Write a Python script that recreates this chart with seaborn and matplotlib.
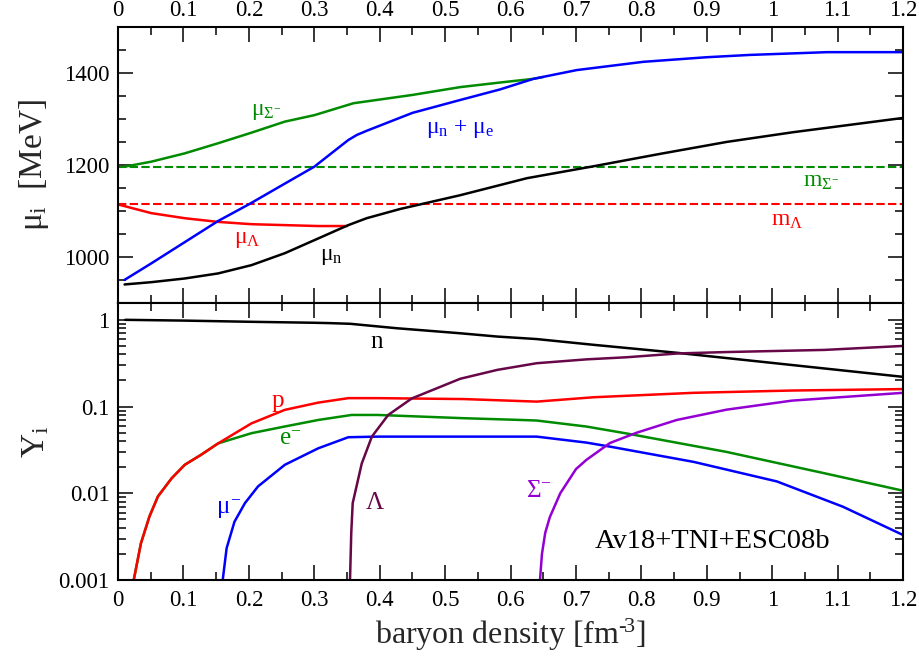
import matplotlib
matplotlib.use("Agg")
import matplotlib.pyplot as plt
import seaborn as sns
from matplotlib.ticker import MultipleLocator, LogLocator, FuncFormatter, NullFormatter

# ---------------- chemical potentials [MeV] ----------------
rho_mu_sigma = [0.010, 0.051, 0.102, 0.153, 0.204, 0.255, 0.300, 0.360, 0.450, 0.523, 0.584, 0.635, 0.650]
mu_sigma = [1197, 1208, 1226, 1248, 1271, 1295, 1309, 1335, 1353, 1370, 1380, 1388, 1392]

rho_mu_ne = [0.010, 0.051, 0.102, 0.153, 0.201, 0.251, 0.300, 0.326, 0.352, 0.365, 0.380, 0.450, 0.523,
             0.584, 0.635, 0.701, 0.803, 0.900, 0.966, 1.084, 1.200]
mu_ne = [951, 987, 1033, 1079, 1116, 1157, 1197, 1226, 1255, 1266, 1275, 1314, 1342,
         1365, 1388, 1407, 1425, 1435, 1440, 1446, 1446]

rho_mu_lambda = [0.000, 0.051, 0.102, 0.153, 0.204, 0.255, 0.306, 0.350]
mu_lambda = [1115, 1096, 1085, 1077, 1072, 1070, 1068, 1068]

rho_mu_n = [0.010, 0.051, 0.102, 0.153, 0.204, 0.255, 0.306, 0.352, 0.380, 0.431, 0.523,
            0.625, 0.727, 0.829, 0.931, 1.032, 1.200]
mu_n = [941, 946, 954, 965, 983, 1009, 1041, 1070, 1085, 1105, 1135,
        1172, 1198, 1225, 1251, 1272, 1303]

m_lambda = 1115.7
m_sigma = 1197.4
rho_range = [0.0, 1.2]

# ---------------- particle fractions ----------------
rho_n = [0.011, 0.100, 0.200, 0.300, 0.324, 0.355, 0.426, 0.523, 0.579, 0.640, 0.727,
         0.854, 0.981, 1.200]
Y_n = [1.0, 0.98, 0.95, 0.925, 0.916, 0.90, 0.80, 0.70, 0.642, 0.60, 0.515,
       0.417, 0.33, 0.22]

rho_p = [0.024, 0.035, 0.048, 0.061, 0.082, 0.102, 0.127, 0.153, 0.204, 0.255, 0.306,
         0.352, 0.397, 0.528, 0.640, 0.727, 0.880, 1.030, 1.200]
Y_p = [0.001, 0.00265, 0.0054, 0.0092, 0.0149, 0.0213, 0.0278, 0.0376, 0.064, 0.0916, 0.111,
       0.125, 0.125, 0.122, 0.114, 0.128, 0.144, 0.153, 0.159]

rho_e = [0.024, 0.035, 0.048, 0.061, 0.082, 0.102, 0.127, 0.153, 0.204, 0.255, 0.306,
         0.357, 0.397, 0.528, 0.609, 0.640, 0.716, 0.777, 0.930, 1.080, 1.200]
Y_e = [0.001, 0.00265, 0.0054, 0.0092, 0.0149, 0.0213, 0.0278, 0.0376, 0.0493, 0.0589, 0.070,
       0.080, 0.080, 0.0734, 0.0703, 0.069, 0.0588, 0.049, 0.030, 0.017, 0.0107]

rho_muon = [0.160, 0.166, 0.178, 0.194, 0.214, 0.255, 0.306, 0.352, 0.397, 0.609, 0.640,
            0.716, 0.752, 0.880, 1.007, 1.108, 1.200]
Y_muon = [0.001, 0.00233, 0.0047, 0.0077, 0.012, 0.0213, 0.033, 0.0443, 0.045, 0.045, 0.045,
          0.0384, 0.0345, 0.023, 0.0137, 0.0070, 0.0033]

rho_lambda = [0.3546, 0.3565, 0.3587, 0.3725, 0.388, 0.413, 0.449, 0.523, 0.580, 0.640,
              0.716, 0.777, 0.857, 0.930, 1.080, 1.200]
Y_lambda = [0.001, 0.0035, 0.0077, 0.022, 0.045, 0.080, 0.124, 0.209, 0.265, 0.316,
            0.350, 0.370, 0.410, 0.425, 0.450, 0.500]

rho_sigma = [0.645, 0.648, 0.653, 0.660, 0.676, 0.700, 0.716, 0.752, 0.793, 0.854,
             0.930, 1.030, 1.200]
Y_sigma = [0.001, 0.002, 0.0035, 0.0053, 0.010, 0.019, 0.0243, 0.038, 0.050, 0.070,
           0.092, 0.117, 0.144]

# ---------------- style ----------------
sns.set_theme(style="ticks")
plt.rcParams.update({
    "mathtext.fontset": "custom",
    "mathtext.rm": "Liberation Serif",
    "mathtext.it": "Liberation Serif",
    "mathtext.bf": "Liberation Serif:bold",
    "axes.linewidth": 1.5,
    "axes.edgecolor": "black",
    "xtick.color": "black",
    "ytick.color": "black",
})
plt.rcParams["font.family"] = ["Liberation Serif", "DejaVu Serif"]

BLACK = "#000000"
RED = "#ff0000"
GREEN = "#008b00"
BLUE = "#0000ff"
MAROON = "#670748"
VIOLET = "#9400d3"
LW = 1.8

fig = plt.figure(figsize=(9.2, 6.63), dpi=100)
ax1 = fig.add_axes([0.1283, 0.5425, 0.8533, 0.4163])
ax2 = fig.add_axes([0.1283, 0.1252, 0.8533, 0.4173], sharex=ax1)

# ---- upper panel: chemical potentials ----
for m, col in [(m_sigma, GREEN), (m_lambda, RED)]:
    sns.lineplot(x=rho_range, y=[m, m], color=col, lw=1.5, ax=ax1)
    ax1.lines[-1].set_dashes((4, 1.6))

sns.lineplot(x=rho_mu_sigma, y=mu_sigma, color=GREEN, lw=LW, ax=ax1)
sns.lineplot(x=rho_mu_lambda, y=mu_lambda, color=RED, lw=LW, ax=ax1)
sns.lineplot(x=rho_mu_n, y=mu_n, color=BLACK, lw=LW, ax=ax1)
sns.lineplot(x=rho_mu_ne, y=mu_ne, color=BLUE, lw=LW, ax=ax1)

fs_lab = 17
ax1.text(0.226, 1317, r"$\mu_{\Sigma^{-}}$", color=GREEN, fontsize=fs_lab, ha="center", va="center")
ax1.text(0.523, 1279, r"$\mu_{n}$ + $\mu_{e}$", color=BLUE, fontsize=fs_lab, ha="center", va="center")
ax1.text(0.198, 1039, r"$\mu_{\Lambda}$", color=RED, fontsize=fs_lab, ha="center", va="center")
ax1.text(0.326, 1001, r"$\mu_{n}$", color=BLACK, fontsize=fs_lab, ha="center", va="center")
ax1.text(1.075, 1165, r"$m_{\Sigma^{-}}$", color=GREEN, fontsize=fs_lab, ha="center", va="center")
ax1.text(1.023, 1079, r"$m_{\Lambda}$", color=RED, fontsize=fs_lab, ha="center", va="center")

ax1.set_xlim(0, 1.2)
ax1.set_ylim(900, 1500)
ax1.yaxis.set_major_locator(MultipleLocator(200))
ax1.yaxis.set_minor_locator(MultipleLocator(50))
ax1.set_ylabel(r"$\mu_{i}$  [MeV]", fontsize=24)
ax1.yaxis.set_label_coords(-0.085, 0.5)

# ---- lower panel: particle fractions ----
sns.lineplot(x=rho_e, y=Y_e, color=GREEN, lw=LW, ax=ax2)
sns.lineplot(x=rho_p, y=Y_p, color=RED, lw=LW, ax=ax2)
sns.lineplot(x=rho_n, y=Y_n, color=BLACK, lw=LW, ax=ax2)
sns.lineplot(x=rho_muon, y=Y_muon, color=BLUE, lw=LW, ax=ax2)
sns.lineplot(x=rho_lambda, y=Y_lambda, color=MAROON, lw=LW, ax=ax2)
sns.lineplot(x=rho_sigma, y=Y_sigma, color=VIOLET, lw=LW, ax=ax2)
ax2.set_yscale("log")
ax2.set_ylim(0.001, 1.55)

fs_b = 18
ax2.text(0.396, 0.557, "n", color=BLACK, fontsize=fs_b, ha="center", va="center")
ax2.text(0.245, 0.116, "p", color=RED, fontsize=fs_b, ha="center", va="center")
ax2.text(0.263, 0.0419, r"e$^{-}$", color=GREEN, fontsize=fs_b, ha="center", va="center")
ax2.text(0.169, 0.0066, r"$\mu^{-}$", color=BLUE, fontsize=fs_b, ha="center", va="center")
ax2.text(0.393, 0.00764, r"$\Lambda$", color=MAROON, fontsize=fs_b, ha="center", va="center")
ax2.text(0.644, 0.0105, r"$\Sigma^{-}$", color=VIOLET, fontsize=fs_b, ha="center", va="center")
ax2.text(0.909, 0.00279, "Av18+TNI+ESC08b", color=BLACK, fontsize=20.5, ha="center", va="center")

ax2.yaxis.set_major_locator(LogLocator(base=10, numticks=10))
ax2.yaxis.set_minor_locator(LogLocator(base=10, subs=range(2, 10), numticks=20))
ax2.yaxis.set_minor_formatter(NullFormatter())
ax2.yaxis.set_major_formatter(FuncFormatter(lambda v, p: f"{v:g}"))
ax2.set_ylabel(r"Y$_{i}$", fontsize=24)
ax2.yaxis.set_label_coords(-0.085, 0.5)
ax2.set_xlabel("baryon density [fm$^{\u2010\\!3}$]", fontsize=23)
ax2.xaxis.set_label_coords(0.5, -0.133)

# ---- shared x axis and ticks ----
ax2.xaxis.set_major_locator(MultipleLocator(0.1))
ax2.xaxis.set_minor_locator(MultipleLocator(0.05))
ax2.xaxis.set_major_formatter(FuncFormatter(lambda v, p: f"{v:.1f}".rstrip("0").rstrip(".") if v else "0"))

for ax in (ax1, ax2):
    ax.tick_params(which="both", direction="in", top=True, right=True, width=1.1,
                   labelsize=16.5, colors="black")
    ax.tick_params(which="major", length=10.5)
    ax.tick_params(which="minor", length=5.5)
    ax.tick_params(axis="y", pad=6)
    for s in ax.spines.values():
        s.set_linewidth(1.5)
        s.set_color("black")

ax1.tick_params(axis="x", labeltop=True, labelbottom=False, pad=4.5)
ax2.tick_params(axis="x", labeltop=False, labelbottom=True, pad=7)

fig.savefig("out.png", dpi=100)
